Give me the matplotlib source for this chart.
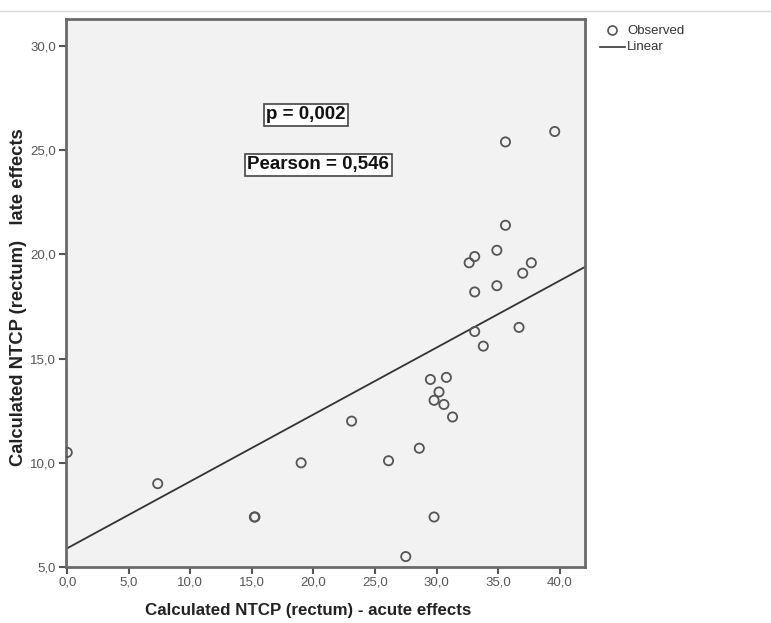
import numpy as np
import matplotlib
matplotlib.use("Agg")
import matplotlib.pyplot as plt
from matplotlib.lines import Line2D

# Data
acute = [0.0, 7.35, 15.2, 15.25, 19.0, 23.1, 26.1, 28.6, 27.5, 29.8,
         29.5, 30.8, 30.2, 29.8, 30.6, 31.3,
         33.1, 33.8, 36.7,
         35.6, 39.6, 35.6, 34.9, 33.1, 32.65, 37.7, 37.0, 34.9, 33.1]
late = [10.5, 9.0, 7.4, 7.4, 10.0, 12.0, 10.1, 10.7, 5.5, 7.4,
        14.0, 14.1, 13.4, 13.0, 12.8, 12.2,
        16.3, 15.6, 16.5,
        25.4, 25.9, 21.4, 20.2, 19.9, 19.6, 19.6, 19.1, 18.5, 18.2]
fit_intercept = 5.9
fit_slope = 0.321
x_ticks = [0, 5, 10, 15, 20, 25, 30, 35, 40]
y_ticks = [5, 10, 15, 20, 25, 30]
annot_p = "p = 0,002"
annot_r = "Pearson = 0,546"

plt.rcParams['font.family'] = ['Liberation Sans', 'DejaVu Sans']

fig = plt.figure(figsize=(7.71, 6.23), dpi=100)
fig.add_artist(Line2D([0, 1], [1 - 11 / 623, 1 - 11 / 623], color='#d8d8d8', lw=1))

ax = fig.add_axes([66 / 771, 1 - 567 / 623, (585 - 66) / 771, (567 - 19) / 623])
ax.set_facecolor('#f2f2f2')

xs = np.array([-0.2, 42.1])
ax.plot(xs, fit_intercept + fit_slope * xs, color='#333333', lw=1.3, zorder=2)
ax.scatter(acute, late, s=44, facecolors='none', edgecolors='#555555',
           linewidths=1.3, zorder=3)

ax.set_xlim(-0.1, 42.06)
ax.set_ylim(5.0, 31.3)
ax.set_xticks(x_ticks)
ax.set_yticks(y_ticks)
ax.set_xticklabels([f"{v:.1f}".replace('.', ',') for v in x_ticks])
ax.set_yticklabels([f"{v:.1f}".replace('.', ',') for v in y_ticks])
ax.tick_params(direction='out', length=5, width=1.5, color='#555555',
               labelcolor='#555555', labelsize=9.5, pad=2)
for sp in ax.spines.values():
    sp.set_color('#6a6a6a')
    sp.set_linewidth(2)

ax.set_xlabel("Calculated NTCP (rectum) - acute effects", fontsize=12.2,
              fontweight='bold', color='#222222')
ax.xaxis.set_label_coords((308 - 66) / 519, -(603 - 567) / 548)
ax.set_ylabel("Calculated NTCP (rectum)   late effects", fontsize=13.2,
              fontweight='bold', color='#222222')
ax.yaxis.set_label_coords((27 - 66) / 519, (567 - 297) / 548)

bbox = dict(boxstyle='square,pad=0.13', facecolor='white', edgecolor='#444444', lw=1.2)
ax.text(19.4, 26.7, annot_p, fontsize=13.5, fontweight='bold', ha='center',
        va='center', bbox=bbox, color='#111111')
ax.text(20.4, 24.3, annot_r, fontsize=13.5, fontweight='bold', ha='center',
        va='center', bbox=bbox, color='#111111')

# Legend outside at top right
fig.add_artist(Line2D([612 / 771], [1 - 30 / 623], marker='o', markersize=6.5,
                      markerfacecolor='none', markeredgecolor='#555555',
                      markeredgewidth=1.2, linestyle='none'))
fig.text(627 / 771, 1 - 31 / 623, "Observed", fontsize=9.5, va='center', color='#333333')
fig.add_artist(Line2D([600 / 771, 625 / 771], [1 - 47 / 623, 1 - 47 / 623],
                      color='#333333', lw=1.2))
fig.text(627 / 771, 1 - 47 / 623, "Linear", fontsize=9.5, va='center', color='#333333')

fig.savefig("out.png", dpi=100)
